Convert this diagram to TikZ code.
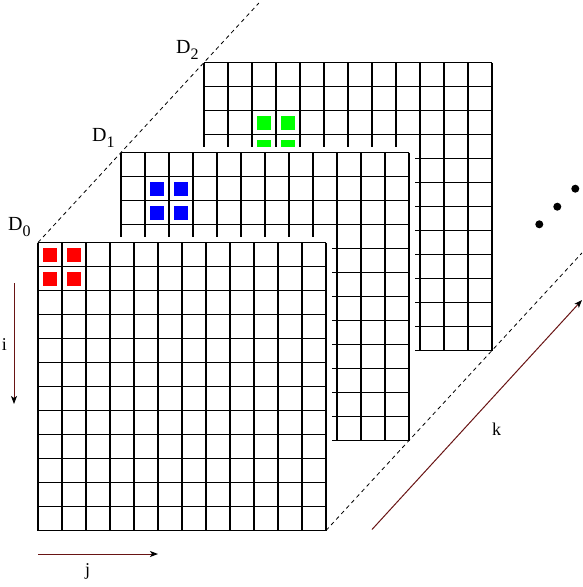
\documentclass[tikz,border=0pt]{standalone}
\usepackage{fontspec}
\setmainfont{Liberation Serif}
\usetikzlibrary{arrows.meta}
\definecolor{axiscol}{RGB}{105,20,20}
\definecolor{sqred}{RGB}{255,0,0}
\definecolor{sqblue}{RGB}{0,0,255}
\definecolor{sqgreen}{RGB}{0,255,0}
\begin{document}
\begin{tikzpicture}[x=1pt,y=-1pt,
  gridlines/.style={line width=1.1pt,black},
  guide/.style={line width=0.8pt,dash pattern=on 4pt off 3.5pt},
  axis/.style={axiscol,line width=1pt,-{Stealth[length=8pt,width=6pt,inset=2pt,black]}},
  lab/.style={font=\fontsize{18}{18}\selectfont,inner sep=0pt,anchor=base},
  dlab/.style={font=\fontsize{20}{20}\selectfont,inner sep=0pt,anchor=base west},
  dot/.style={circle,fill=black,inner sep=0pt,minimum size=8pt}
]
\useasboundingbox (0,0) rectangle (583,587);
\foreach \x/\y/\r/\col/\n in {204/62.5/2/sqgreen/2, 121/152.5/1/sqblue/1, 38/242.5/0/sqred/0} {
  \fill[white] (\x-6,\y-6) rectangle (\x+294,\y+294);
  \foreach \k in {0,...,12} {
    \draw[gridlines] (\x+24*\k,\y) -- (\x+24*\k,\y+288);
    \draw[gridlines] (\x,\y+24*\k) -- (\x+288,\y+24*\k);
  }
  \foreach \a in {0,1} {
    \foreach \b in {0,1} {
      \fill[\col] (\x+24*\r+24*\a+5,\y+24*\r+24*\b+5) rectangle ++(14,14);
    }
  }
  \coordinate (tl\n) at (\x,\y);
  \coordinate (br\n) at (\x+288,\y+288);
}
\coordinate (topend) at (258.9,3);
\coordinate (botend) at (582,252.9);
\draw[guide] (tl0) -- (tl1) -- (tl2) -- (topend);
\draw[guide] (br0) -- (br1) -- (br2) -- (botend);
\node[dlab] (d0) at (8,230) {D\raisebox{-6pt}{\fontsize{16}{16}\selectfont 0}};
\node[dlab] (d1) at (92,141) {D\raisebox{-6pt}{\fontsize{16}{16}\selectfont 1}};
\node[dlab] (d2) at (176,53) {D\raisebox{-6pt}{\fontsize{16}{16}\selectfont 2}};
\coordinate (ia) at (14,283);
\coordinate (ib) at (14,404);
\draw[axis] (ia) -- (ib);
\node[lab] (il) at (4.5,350) {i};
\coordinate (ja) at (38,554);
\coordinate (jb) at (158,554);
\draw[axis] (ja) -- (jb);
\node[lab] (jl) at (87.5,575) {j};
\coordinate (ka) at (372,529.5);
\coordinate (kb) at (582,300);
\draw[axis] (ka) -- (kb);
\node[lab] (kl) at (496.5,435) {k};
\node[dot] (e1) at (539.3,224.3) {};
\node[dot] (e2) at (557.3,206.7) {};
\node[dot] (e3) at (575.3,188.7) {};
\end{tikzpicture}
\end{document}
